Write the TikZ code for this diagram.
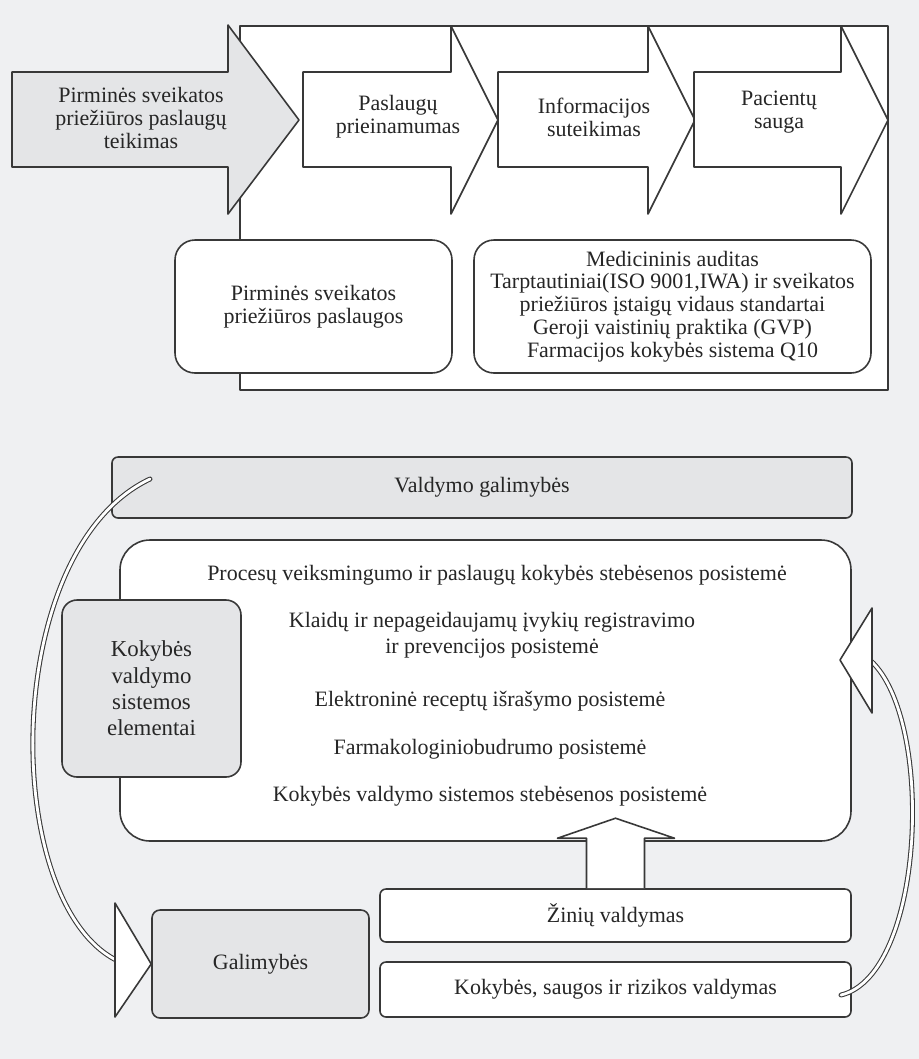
\documentclass[tikz,border=0pt]{standalone}
\usepackage{fontspec}
\setmainfont{Liberation Serif}
\definecolor{bgcol}{HTML}{EFF0F2}
\definecolor{grayfill}{HTML}{E4E5E7}
\definecolor{edge}{HTML}{383838}

\begin{document}
\begin{tikzpicture}[x=0.02cm,y=-0.02cm,
  outline/.style={draw=edge,line width=0.9pt,line join=round},
  wh/.style 2 args={minimum width=#1*0.02cm,minimum height=#2*0.02cm},
  box/.style={outline,fill=white,inner sep=0pt,align=center,text=black!85,font=\fontsize{12.5}{13}\selectfont},
  graybox/.style={box,fill=grayfill},
  item/.style={align=center,text=black!85,font=\fontsize{12.5}{13}\selectfont},
  ribbon/.style={draw=edge,line width=0.6pt,double=white,double distance=1.6pt,line cap=round}]
\fill[bgcol] (0,0) rectangle (919,1059);
\useasboundingbox (0,0) rectangle (919,1059);

% top frame with the process arrows
\draw[outline,fill=white] (240,26) rectangle (888,390);
\draw[outline,fill=grayfill] (12,72) -- (228,72) -- (228,25) -- (299,120) -- (228,214) -- (228,167) -- (12,167) -- cycle;
\foreach \l/\r in {303/451,498/648,694/841}
  \draw[outline,fill=white] (\l,72) -- (\r,72) -- (\r,26) -- (\r+47,120) -- (\r,214) -- (\r,167) -- (\l,167) -- cycle;
\node[item] (teikimas) at (141,118) {Pirminės sveikatos\\priežiūros paslaugų\\teikimas};
\node[item] (prieinam) at (398,117) {Paslaugų\\prieinamumas};
\node[item] (inform) at (594,117) {Informacijos\\suteikimas};
\node[item] (sauga) at (779,112) {Pacientų\\sauga};

\node[box,rounded corners=0.4cm,wh={277}{133}] (paslaugos) at (313.5,306.5) {Pirminės sveikatos\\priežiūros paslaugos};
\node[box,rounded corners=0.4cm,wh={397}{133}] (standartai) at (672.5,306.5) {Medicininis auditas\\Tarptautiniai(ISO 9001,IWA) ir sveikatos\\priežiūros įstaigų vidaus standartai\\Geroji vaistinių praktika (GVP)\\Farmacijos kokybės sistema Q10};

% lower part
\node[graybox,rounded corners=0.12cm,wh={740}{61}] (valdymo) at (482,487.5) {Valdymo galimybės};
\node[box,rounded corners=0.6cm,wh={731}{301}] (posist) at (485.5,690.5) {};
\node[item] (procesu) at (497,575) {Procesų veiksmingumo ir paslaugų kokybės stebėsenos posistemė};
\node[item,font=\fontsize{12.5}{15}\selectfont] (klaidu) at (492,635) {Klaidų ir nepageidaujamų įvykių registravimo\\ir prevencijos posistemė};
\node[item] (recept) at (490,701) {Elektroninė receptų išrašymo posistemė};
\node[item] (farmak) at (490,749) {Farmakologiniobudrumo posistemė};
\node[item] (stebes) at (490,796) {Kokybės valdymo sistemos stebėsenos posistemė};
\node[graybox,rounded corners=0.3cm,font=\fontsize{13}{15}\selectfont,wh={179}{177}] (elementai) at (151.5,688.5) {Kokybės\\valdymo\\sistemos\\elementai};

\node[box,rounded corners=0.12cm,wh={471}{53}] (zinios) at (615.5,915.5) {Žinių valdymas};
\node[box,rounded corners=0.12cm,wh={471}{55}] (rizika) at (615.5,989.5) {Kokybės, saugos ir rizikos valdymas};
\node[graybox,rounded corners=0.16cm,wh={217}{108}] (galim) at (260.5,964) {Galimybės};

\draw[outline,fill=white] ([xshift=-0.58cm]zinios.north) -- ++(0,-50) -- ++(-29,0) -- ++(58,-20) -- ++(59,20) -- ++(-30,0) -- ++(0,50);

% feedback ribbons
\coordinate (vstart) at (150,479);
\coordinate (gin) at (116,960);
\draw[ribbon] (vstart) .. controls (0,550) and (0,900) .. (gin);
\draw[outline,fill=white] (115,903) -- (galim.west) -- (115,1017) -- cycle;
\coordinate (rstart) at (841,995);
\coordinate (pin) at (871,661);
\draw[ribbon] (rstart) .. controls (925,975) and (935,720) .. (pin);
\draw[outline,fill=white] (872,608) -- (840,660) -- (872,713) -- cycle;
\end{tikzpicture}
\end{document}
